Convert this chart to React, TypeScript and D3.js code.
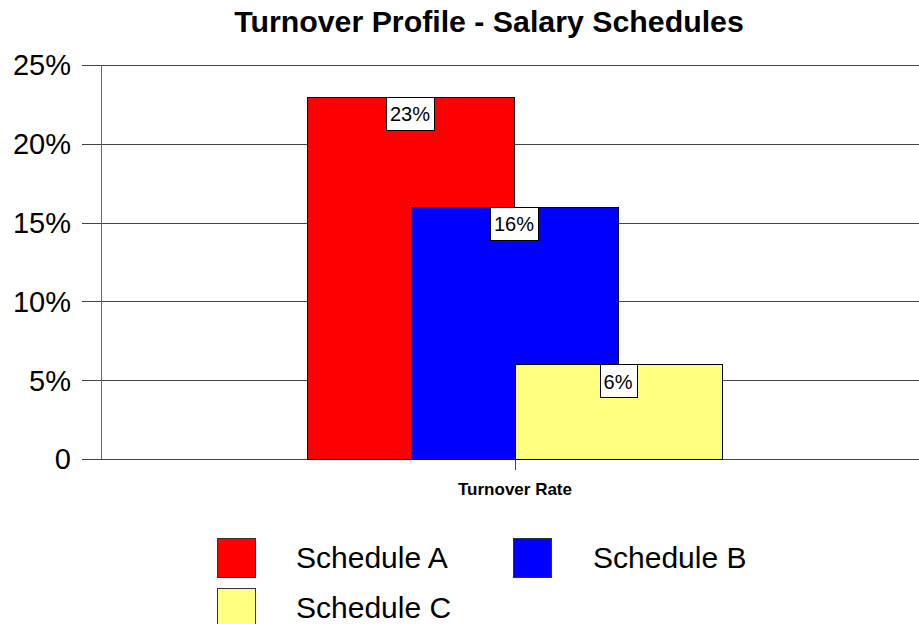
import React, { useRef, useEffect } from "react";
import * as d3 from "d3";

const categories = ["Turnover Rate"];
const seriesNames = ["Schedule A", "Schedule B", "Schedule C"];
const seriesValues = [23, 16, 6];
const seriesColors = ["#ff0000", "#0000ff", "#ffff80"];
const yTicks = [0, 5, 10, 15, 20, 25];

const FONT = "'Liberation Sans', Arial, Helvetica, sans-serif";

const App = () => {
  const ref = useRef<SVGSVGElement>(null);

  useEffect(() => {
    if (!ref.current) return;
    const svg = d3.select(ref.current);
    svg.selectAll("*").remove();

    const width = 919,
      height = 624;
    const left = 101,
      top = 65,
      bottom = 459;

    const y = d3.scaleLinear().domain([0, 25]).range([bottom, top]);
    const x0 = d3.scaleBand().domain(categories).range([left, 929]);
    const xs = d3.scalePoint().domain(seriesNames).range([-104, 104]);
    const barW = 207;

    svg.append("rect").attr("width", width).attr("height", height).attr("fill", "#fff");

    // Title
    svg
      .append("text")
      .attr("x", 489)
      .attr("y", 32)
      .attr("text-anchor", "middle")
      .attr("font-family", FONT)
      .attr("font-weight", "bold")
      .attr("font-size", 30.3)
      .text("Turnover Profile - Salary Schedules");

    // Gridlines + y labels
    yTicks.forEach((t) => {
      svg
        .append("line")
        .attr("x1", 82)
        .attr("x2", width)
        .attr("y1", Math.round(y(t)) + 0.5)
        .attr("y2", Math.round(y(t)) + 0.5)
        .attr("stroke", "#444")
        .attr("stroke-width", 1);
      svg
        .append("text")
        .attr("x", 71)
        .attr("y", y(t))
        .attr("dy", "0.36em")
        .attr("text-anchor", "end")
        .attr("font-family", FONT)
        .attr("font-size", 29)
        .text(t === 0 ? "0" : `${t}%`);
    });

    // Left axis
    svg
      .append("line")
      .attr("x1", left + 0.5)
      .attr("x2", left + 0.5)
      .attr("y1", top)
      .attr("y2", bottom)
      .attr("stroke", "#666");

    // Bars
    const cx = (x0(categories[0]) as number) + x0.bandwidth() / 2;
    seriesNames.forEach((s, i) => {
      const c = cx + (xs(s) as number);
      svg
        .append("rect")
        .attr("x", Math.floor(c - barW / 2) + 0.5)
        .attr("y", Math.round(y(seriesValues[i])) + 0.5)
        .attr("width", barW)
        .attr("height", Math.round(bottom - y(seriesValues[i])))
        .attr("fill", seriesColors[i])
        .attr("stroke", "#000")
        .attr("stroke-width", 1);
    });

    // Value labels
    seriesNames.forEach((s, i) => {
      const c = cx + (xs(s) as number);
      const g = svg.append("g");
      const txt = g
        .append("text")
        .attr("x", c - 1)
        .attr("y", y(seriesValues[i]) + 17)
        .attr("dy", "0.36em")
        .attr("text-anchor", "middle")
        .attr("font-family", FONT)
        .attr("font-size", 20)
        .text(`${seriesValues[i]}%`);
      const w = (txt.node() as SVGTextElement).getComputedTextLength() + 8;
      g.insert("rect", "text")
        .attr("x", Math.round(c - 1 - w / 2) + 0.5)
        .attr("y", Math.round(y(seriesValues[i])) + 0.5)
        .attr("width", Math.round(w))
        .attr("height", 33)
        .attr("fill", "#fff")
        .attr("stroke", "#000");
    });

    // x tick + category label
    svg
      .append("line")
      .attr("x1", Math.round(cx) + 0.5)
      .attr("x2", Math.round(cx) + 0.5)
      .attr("y1", bottom)
      .attr("y2", bottom + 11)
      .attr("stroke", "#444");
    svg
      .append("text")
      .attr("x", cx)
      .attr("y", 495)
      .attr("text-anchor", "middle")
      .attr("font-family", FONT)
      .attr("font-weight", "bold")
      .attr("font-size", 17)
      .text(categories[0]);

    // Legend
    const legendPos = [
      { sx: 217, sy: 538, tx: 296 },
      { sx: 513, sy: 538, tx: 593 },
      { sx: 217, sy: 588, tx: 296 },
    ];
    seriesNames.forEach((s, i) => {
      const p = legendPos[i];
      svg
        .append("rect")
        .attr("x", p.sx + 0.5)
        .attr("y", p.sy + 0.5)
        .attr("width", 38)
        .attr("height", 39)
        .attr("fill", seriesColors[i])
        .attr("stroke", "#333");
      svg
        .append("text")
        .attr("x", p.tx)
        .attr("y", p.sy + 30)
        .attr("font-family", FONT)
        .attr("font-size", 30)
        .text(s);
    });
  }, []);

  return (
    <svg
      ref={ref}
      width={919}
      height={624}
      style={{ position: "absolute", left: 0, top: 0, display: "block" }}
    />
  );
};

export default App;
